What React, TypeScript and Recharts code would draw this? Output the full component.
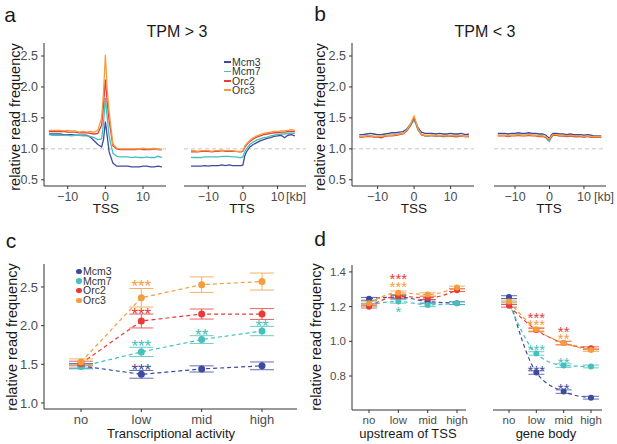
import React from "react";
import { LineChart, Line, XAxis, YAxis, ReferenceLine, ReferenceDot, ErrorBar } from "recharts";

const FONT = '"Liberation Sans", Arial, Helvetica, sans-serif';

const names = ["Mcm3", "Mcm7", "Orc2", "Orc3"];
const colors = ["#3d4b9f", "#45c0bd", "#e83a36", "#f59d3d"];

// positions along the profile, in kb
const kb = [-15, -14, -13, -12, -11, -10, -9, -8, -7, -6, -5, -4, -3, -2, -1, -0.5, 0, 0.5, 1, 2, 3, 4, 5, 6, 7, 8, 9, 10, 11, 12, 13, 14, 15];

// a: TPM > 3, around TSS
const hiTssMcm3 = [1.24, 1.24, 1.24, 1.24, 1.23, 1.23, 1.23, 1.22, 1.22, 1.22, 1.22, 1.19, 1.13, 1.07, 1.03, 1.15, 1.44, 1.2, 0.95, 0.77, 0.72, 0.72, 0.72, 0.72, 0.71, 0.71, 0.71, 0.72, 0.72, 0.71, 0.71, 0.72, 0.71];
const hiTssMcm7 = [1.23, 1.22, 1.22, 1.22, 1.22, 1.22, 1.21, 1.22, 1.22, 1.21, 1.21, 1.2, 1.18, 1.15, 1.16, 1.42, 1.82, 1.5, 1.2, 0.93, 0.88, 0.87, 0.87, 0.87, 0.86, 0.87, 0.86, 0.86, 0.87, 0.86, 0.86, 0.88, 0.86];
const hiTssOrc2 = [1.28, 1.28, 1.28, 1.28, 1.28, 1.27, 1.27, 1.27, 1.26, 1.26, 1.26, 1.25, 1.24, 1.25, 1.38, 1.7, 2.12, 1.75, 1.45, 1.05, 1.0, 0.99, 0.99, 0.99, 0.99, 0.99, 1.0, 0.99, 0.99, 0.99, 1.0, 0.99, 0.99];
const hiTssOrc3 = [1.3, 1.3, 1.3, 1.3, 1.29, 1.3, 1.29, 1.29, 1.27, 1.28, 1.27, 1.28, 1.27, 1.3, 1.5, 1.9, 2.52, 1.95, 1.6, 1.08, 1.01, 1.0, 1.0, 1.0, 1.0, 1.0, 1.0, 1.01, 1.0, 1.0, 1.01, 0.99, 0.99];

// a: TPM > 3, around TTS
const hiTtsMcm3 = [0.72, 0.72, 0.72, 0.72, 0.73, 0.72, 0.73, 0.73, 0.73, 0.74, 0.73, 0.74, 0.73, 0.73, 0.73, 0.73, 0.74, 0.88, 0.95, 1.03, 1.07, 1.1, 1.13, 1.15, 1.17, 1.18, 1.2, 1.21, 1.22, 1.18, 1.22, 1.23, 1.21];
const hiTtsMcm7 = [0.86, 0.86, 0.86, 0.86, 0.87, 0.87, 0.87, 0.87, 0.87, 0.88, 0.88, 0.88, 0.87, 0.87, 0.86, 0.86, 0.87, 0.95, 1.0, 1.07, 1.11, 1.14, 1.16, 1.18, 1.19, 1.21, 1.22, 1.23, 1.24, 1.24, 1.25, 1.25, 1.25];
const hiTtsOrc2 = [0.95, 0.95, 0.95, 0.96, 0.96, 0.96, 0.95, 0.96, 0.96, 0.97, 0.96, 0.96, 0.96, 0.96, 0.95, 0.95, 0.96, 1.02, 1.06, 1.12, 1.16, 1.19, 1.21, 1.23, 1.24, 1.25, 1.26, 1.26, 1.27, 1.27, 1.28, 1.28, 1.28];
const hiTtsOrc3 = [0.97, 0.97, 0.96, 0.97, 0.97, 0.97, 0.96, 0.97, 0.97, 0.98, 0.97, 0.97, 0.97, 0.96, 0.96, 0.96, 0.97, 1.04, 1.08, 1.14, 1.18, 1.21, 1.23, 1.25, 1.26, 1.27, 1.28, 1.28, 1.29, 1.29, 1.3, 1.31, 1.3];

// b: TPM < 3, around TSS
const loTssMcm3 = [1.23, 1.23, 1.24, 1.25, 1.24, 1.23, 1.23, 1.24, 1.25, 1.26, 1.26, 1.27, 1.28, 1.32, 1.4, 1.44, 1.47, 1.42, 1.35, 1.27, 1.25, 1.25, 1.25, 1.24, 1.25, 1.24, 1.24, 1.25, 1.24, 1.24, 1.25, 1.23, 1.24];
const loTssMcm7 = [1.2, 1.2, 1.21, 1.21, 1.2, 1.2, 1.2, 1.21, 1.22, 1.22, 1.23, 1.24, 1.25, 1.29, 1.37, 1.42, 1.46, 1.4, 1.31, 1.23, 1.21, 1.21, 1.21, 1.2, 1.21, 1.2, 1.2, 1.21, 1.2, 1.2, 1.21, 1.2, 1.2];
const loTssOrc2 = [1.19, 1.19, 1.2, 1.2, 1.19, 1.19, 1.18, 1.2, 1.21, 1.21, 1.22, 1.23, 1.24, 1.29, 1.38, 1.45, 1.5, 1.42, 1.33, 1.23, 1.21, 1.21, 1.22, 1.21, 1.21, 1.2, 1.21, 1.21, 1.2, 1.2, 1.21, 1.2, 1.2];
const loTssOrc3 = [1.2, 1.2, 1.21, 1.21, 1.2, 1.2, 1.2, 1.21, 1.22, 1.22, 1.23, 1.24, 1.25, 1.3, 1.4, 1.47, 1.53, 1.44, 1.34, 1.23, 1.22, 1.22, 1.22, 1.21, 1.22, 1.21, 1.21, 1.22, 1.21, 1.21, 1.21, 1.2, 1.21];

// b: TPM < 3, around TTS
const loTtsMcm3 = [1.25, 1.25, 1.25, 1.24, 1.25, 1.25, 1.26, 1.25, 1.25, 1.26, 1.25, 1.25, 1.24, 1.24, 1.22, 1.19, 1.17, 1.22, 1.25, 1.25, 1.24, 1.24, 1.23, 1.24, 1.23, 1.23, 1.23, 1.22, 1.23, 1.22, 1.21, 1.21, 1.21];
const loTtsMcm7 = [1.22, 1.22, 1.22, 1.21, 1.22, 1.22, 1.23, 1.22, 1.22, 1.23, 1.22, 1.22, 1.21, 1.21, 1.18, 1.14, 1.12, 1.18, 1.22, 1.22, 1.21, 1.21, 1.2, 1.21, 1.2, 1.2, 1.2, 1.19, 1.2, 1.19, 1.19, 1.19, 1.18];
const loTtsOrc2 = [1.21, 1.21, 1.21, 1.2, 1.21, 1.21, 1.22, 1.21, 1.21, 1.22, 1.21, 1.21, 1.2, 1.2, 1.18, 1.16, 1.15, 1.19, 1.22, 1.22, 1.21, 1.21, 1.2, 1.21, 1.2, 1.2, 1.2, 1.19, 1.2, 1.19, 1.19, 1.19, 1.19];
const loTtsOrc3 = [1.22, 1.22, 1.22, 1.21, 1.22, 1.22, 1.23, 1.22, 1.22, 1.23, 1.22, 1.22, 1.21, 1.21, 1.19, 1.17, 1.16, 1.2, 1.23, 1.23, 1.22, 1.22, 1.21, 1.22, 1.21, 1.21, 1.21, 1.2, 1.21, 1.2, 1.2, 1.2, 1.2];

// c: transcriptional activity
const cats = ["no", "low", "mid", "high"];
const cMcm3 = [1.48, 1.37, 1.44, 1.48];
const cMcm7 = [1.47, 1.66, 1.82, 1.93];
const cOrc2 = [1.51, 2.06, 2.15, 2.15];
const cOrc3 = [1.53, 2.36, 2.53, 2.57];
const cErrMcm3 = [0.03, 0.05, 0.04, 0.05];
const cErrMcm7 = [0.03, 0.06, 0.05, 0.06];
const cErrOrc2 = [0.03, 0.09, 0.065, 0.07];
const cErrOrc3 = [0.04, 0.12, 0.1, 0.11];

// d: upstream of TSS / gene body
const upMcm3 = [1.245, 1.255, 1.23, 1.22];
const upMcm7 = [1.21, 1.23, 1.21, 1.22];
const upOrc2 = [1.2, 1.26, 1.25, 1.295];
const upOrc3 = [1.22, 1.28, 1.27, 1.31];
const gbMcm3 = [1.255, 0.82, 0.71, 0.675];
const gbMcm7 = [1.22, 0.93, 0.86, 0.855];
const gbOrc2 = [1.205, 1.065, 0.99, 0.96];
const gbOrc3 = [1.23, 1.07, 0.99, 0.95];
const dErr = [0.008, 0.01, 0.01, 0.008];

// significance marks: category, height (data units), text, series index
const cStarCat = ["low", "low", "low", "low", "mid", "high"];
const cStarY = [2.565, 2.203, 1.789, 1.478, 1.931, 2.047];
const cStarText = ["***", "***", "***", "***", "**", "**"];
const cStarSeries = [3, 2, 1, 0, 1, 1];

const upStarCat = ["low", "low", "low"];
const upStarY = [1.381, 1.335, 1.19];
const upStarText = ["***", "***", "*"];
const upStarSeries = [2, 3, 1];

const gbStarCat = ["low", "low", "low", "low", "mid", "mid", "mid", "mid"];
const gbStarY = [1.156, 1.114, 0.969, 0.85, 1.073, 1.035, 0.896, 0.746];
const gbStarText = ["***", "***", "***", "***", "**", "**", "**", "**"];
const gbStarSeries = [2, 3, 1, 0, 2, 3, 1, 0];

const profileRows = (s: number[][]) =>
  kb.map((x, i) => ({ x, s0: s[0][i], s1: s[1][i], s2: s[2][i], s3: s[3][i] }));

const catRows = (s: number[][], e: number[][]) =>
  cats.map((cat, i) => ({
    cat,
    s0: s[0][i], s1: s[1][i], s2: s[2][i], s3: s[3][i],
    e0: e[0][i], e1: e[1][i], e2: e[2][i], e3: e[3][i],
  }));

const stars = (c: string[], y: number[], t: string[], s: number[]) =>
  c.map((cat, i) => ({ cat, y: y[i], text: t[i], color: colors[s[i]] }));

const minus = (v: number) => (v < 0 ? `\u2212${Math.abs(v)}` : `${v}`);

type Box = { x: number; y: number; w: number; h: number };
const YW = 40;
const XH = 30;
const PAD = 6;
const AX = { stroke: "#333", strokeWidth: 1 };

function Profile({ box, rows, domain, showY }: { box: Box; rows: any[]; domain: [number, number]; showY: boolean }) {
  const yw = showY ? YW : 0;
  return (
    <div style={{ position: "absolute", left: box.x - yw - PAD, top: box.y - PAD }}>
      <LineChart width={box.w + yw + 2 * PAD} height={box.h + PAD + XH} data={rows}
        margin={{ top: PAD, right: PAD, left: PAD, bottom: 0 }}>
        <XAxis dataKey="x" type="number" domain={domain} allowDataOverflow ticks={[-10, 0, 10]}
          tickFormatter={minus}
          height={XH} axisLine={AX} tickLine={AX} tickSize={3} tickMargin={3}
          tick={{ fill: "#4d4d4d", fontSize: 12.5, fontFamily: FONT }} />
        <YAxis hide={!showY} width={YW} type="number" domain={[0.4, 2.71]} allowDataOverflow
          ticks={[0.5, 1, 1.5, 2, 2.5]} tickFormatter={(v: number) => v.toFixed(1)}
          axisLine={AX} tickLine={AX} tickSize={3} tickMargin={3}
          tick={{ fill: "#4d4d4d", fontSize: 12.5, fontFamily: FONT }} />
        <ReferenceLine y={1} stroke="#c4c4c4" strokeDasharray="4 3" />
        {names.map((n, i) => (
          <Line key={n} type="linear" dataKey={`s${i}`} stroke={colors[i]} strokeWidth={1.3}
            dot={false} isAnimationActive={false} />
        ))}
      </LineChart>
    </div>
  );
}

function CatPanel(props: {
  box: Box; rows: any[]; domain: [number, number]; ticks: number[]; showY: boolean;
  padding: { left: number; right: number }; smooth: boolean; marks: any[];
  fs: number; starFs: number; r: number; cap: number;
}) {
  const { box, rows, domain, ticks, showY, padding, smooth, marks, fs, starFs, r, cap } = props;
  const yw = showY ? YW : 0;
  return (
    <div style={{ position: "absolute", left: box.x - yw - PAD, top: box.y - PAD }}>
      <LineChart width={box.w + yw + 2 * PAD} height={box.h + PAD + XH} data={rows}
        margin={{ top: PAD, right: PAD, left: PAD, bottom: 0 }}>
        <XAxis dataKey="cat" type="category" padding={padding} height={XH}
          axisLine={AX} tickLine={AX} tickSize={3} tickMargin={3}
          tick={{ fill: "#4d4d4d", fontSize: fs, fontFamily: FONT }} />
        <YAxis hide={!showY} width={YW} type="number" domain={domain} allowDataOverflow
          ticks={ticks} tickFormatter={(v: number) => v.toFixed(1)}
          axisLine={AX} tickLine={AX} tickSize={3} tickMargin={3}
          tick={{ fill: "#4d4d4d", fontSize: fs, fontFamily: FONT }} />
        {names.map((n, i) => (
          <Line key={n} type={smooth ? "monotone" : "linear"} dataKey={`s${i}`} stroke={colors[i]}
            strokeWidth={1.2} strokeDasharray="4 3"
            dot={{ r, fill: colors[i], stroke: colors[i], strokeWidth: 0 }}
            isAnimationActive={false}>
            <ErrorBar dataKey={`e${i}`} width={cap} stroke={colors[i]} strokeWidth={1}
              strokeOpacity={0.8} direction="y" />
          </Line>
        ))}
        {marks.map((m, i) => (
          <ReferenceDot key={i} x={m.cat} y={m.y} r={0} ifOverflow="visible"
            shape={(p: any) => (
              <text x={p.cx} y={p.cy + starFs * 0.57} textAnchor="middle" fill={m.color}
                fontSize={starFs} fontFamily={FONT}>{m.text}</text>
            )} />
        ))}
      </LineChart>
    </div>
  );
}

function Txt({ x, y, size, children, rotate, color }: any) {
  return (
    <div style={{
      position: "absolute", left: x, top: y, fontSize: size, lineHeight: 1, whiteSpace: "nowrap",
      color: color || "#1a1a1a", fontFamily: FONT,
      transform: `translate(-50%, -50%)${rotate ? " rotate(-90deg)" : ""}`,
    }}>{children}</div>
  );
}

export default function App() {
  const hiTss = profileRows([hiTssMcm3, hiTssMcm7, hiTssOrc2, hiTssOrc3]);
  const hiTts = profileRows([hiTtsMcm3, hiTtsMcm7, hiTtsOrc2, hiTtsOrc3]);
  const loTss = profileRows([loTssMcm3, loTssMcm7, loTssOrc2, loTssOrc3]);
  const loTts = profileRows([loTtsMcm3, loTtsMcm7, loTtsOrc2, loTtsOrc3]);
  const cData = catRows([cMcm3, cMcm7, cOrc2, cOrc3], [cErrMcm3, cErrMcm7, cErrOrc2, cErrOrc3]);
  const upData = catRows([upMcm3, upMcm7, upOrc2, upOrc3], [dErr, dErr, dErr, dErr]);
  const gbData = catRows([gbMcm3, gbMcm7, gbOrc2, gbOrc3], [dErr, dErr, dErr, dErr]);

  return (
    <div style={{ position: "absolute", left: 0, top: 0, width: 617, height: 444, background: "#fff", overflow: "hidden", fontFamily: FONT }}>
      {/* a */}
      <Profile box={{ x: 44, y: 43, w: 122, h: 143 }} rows={hiTss} domain={[-16.3, 16.1]} showY />
      <Profile box={{ x: 184, y: 43, w: 122, h: 143 }} rows={hiTts} domain={[-17.0, 18.2]} showY={false} />
      {/* b */}
      <Profile box={{ x: 352, y: 43, w: 122, h: 143 }} rows={loTss} domain={[-17.0, 16.4]} showY />
      <Profile box={{ x: 494, y: 43, w: 112, h: 143 }} rows={loTts} domain={[-16.1, 16.4]} showY={false} />
      {/* c */}
      <CatPanel box={{ x: 44, y: 264, w: 253, h: 145 }} rows={cData} domain={[0.922, 2.797]}
        ticks={[1, 1.5, 2, 2.5]} showY padding={{ left: 37, right: 35 }} smooth={false}
        marks={stars(cStarCat, cStarY, cStarText, cStarSeries)} fs={13} starFs={17} r={3.5} cap={12} />
      {/* d */}
      <CatPanel box={{ x: 352, y: 265, w: 114, h: 145 }} rows={upData} domain={[0.604, 1.44]}
        ticks={[0.8, 1.0, 1.2, 1.4]} showY padding={{ left: 17, right: 9 }} smooth
        marks={stars(upStarCat, upStarY, upStarText, upStarSeries)} fs={11.5} starFs={15} r={3} cap={8} />
      <CatPanel box={{ x: 493, y: 265, w: 109, h: 145 }} rows={gbData} domain={[0.604, 1.44]}
        ticks={[0.8, 1.0, 1.2, 1.4]} showY={false} padding={{ left: 16, right: 11 }} smooth
        marks={stars(gbStarCat, gbStarY, gbStarText, gbStarSeries)} fs={11.5} starFs={15} r={3} cap={8} />

      {/* panel letters and titles */}
      <Txt x={10} y={14} size={21}>a</Txt>
      <Txt x={320} y={13} size={21}>b</Txt>
      <Txt x={11} y={240} size={21}>c</Txt>
      <Txt x={320} y={238} size={21}>d</Txt>
      <Txt x={177} y={32} size={16}>TPM &gt; 3</Txt>
      <Txt x={485} y={32} size={16}>TPM &lt; 3</Txt>

      {/* y axis titles */}
      <Txt x={15} y={117} size={14.5} rotate>relative read frequency</Txt>
      <Txt x={320} y={117} size={14.5} rotate>relative read frequency</Txt>
      <Txt x={12} y={337} size={14.5} rotate>relative read frequency</Txt>
      <Txt x={316} y={337} size={14.5} rotate>relative read frequency</Txt>

      {/* x axis titles */}
      <Txt x={106} y={209} size={13.5}>TSS</Txt>
      <Txt x={242} y={209} size={13.5}>TTS</Txt>
      <Txt x={414} y={209} size={13.5}>TSS</Txt>
      <Txt x={549} y={209} size={13.5}>TTS</Txt>
      <Txt x={296} y={197} size={12.5} color="#4d4d4d">[kb]</Txt>
      <Txt x={604} y={197} size={12.5} color="#4d4d4d">[kb]</Txt>
      <Txt x={171} y={433} size={13}>Transcriptional activity</Txt>
      <Txt x={408} y={433} size={13}>upstream of TSS</Txt>
      <Txt x={546} y={433} size={13}>gene body</Txt>

      {/* legend a */}
      {names.map((n, i) => (
        <div key={n} style={{ position: "absolute", left: 224, top: 57 + i * 9.4, height: 10, display: "flex", alignItems: "center" }}>
          <div style={{ width: 7, height: 1.5, background: colors[i], marginRight: 1 }} />
          <span style={{ fontSize: 10.5, color: "#333", lineHeight: 1 }}>{n}</span>
        </div>
      ))}
      {/* legend c */}
      {names.map((n, i) => (
        <div key={n} style={{ position: "absolute", left: 76, top: 266.5 + i * 9.6, height: 10, display: "flex", alignItems: "center" }}>
          <div style={{ width: 5.5, height: 5.5, borderRadius: "50%", background: colors[i], marginRight: 1.5 }} />
          <span style={{ fontSize: 10.5, color: "#333", lineHeight: 1 }}>{n}</span>
        </div>
      ))}
    </div>
  );
}
